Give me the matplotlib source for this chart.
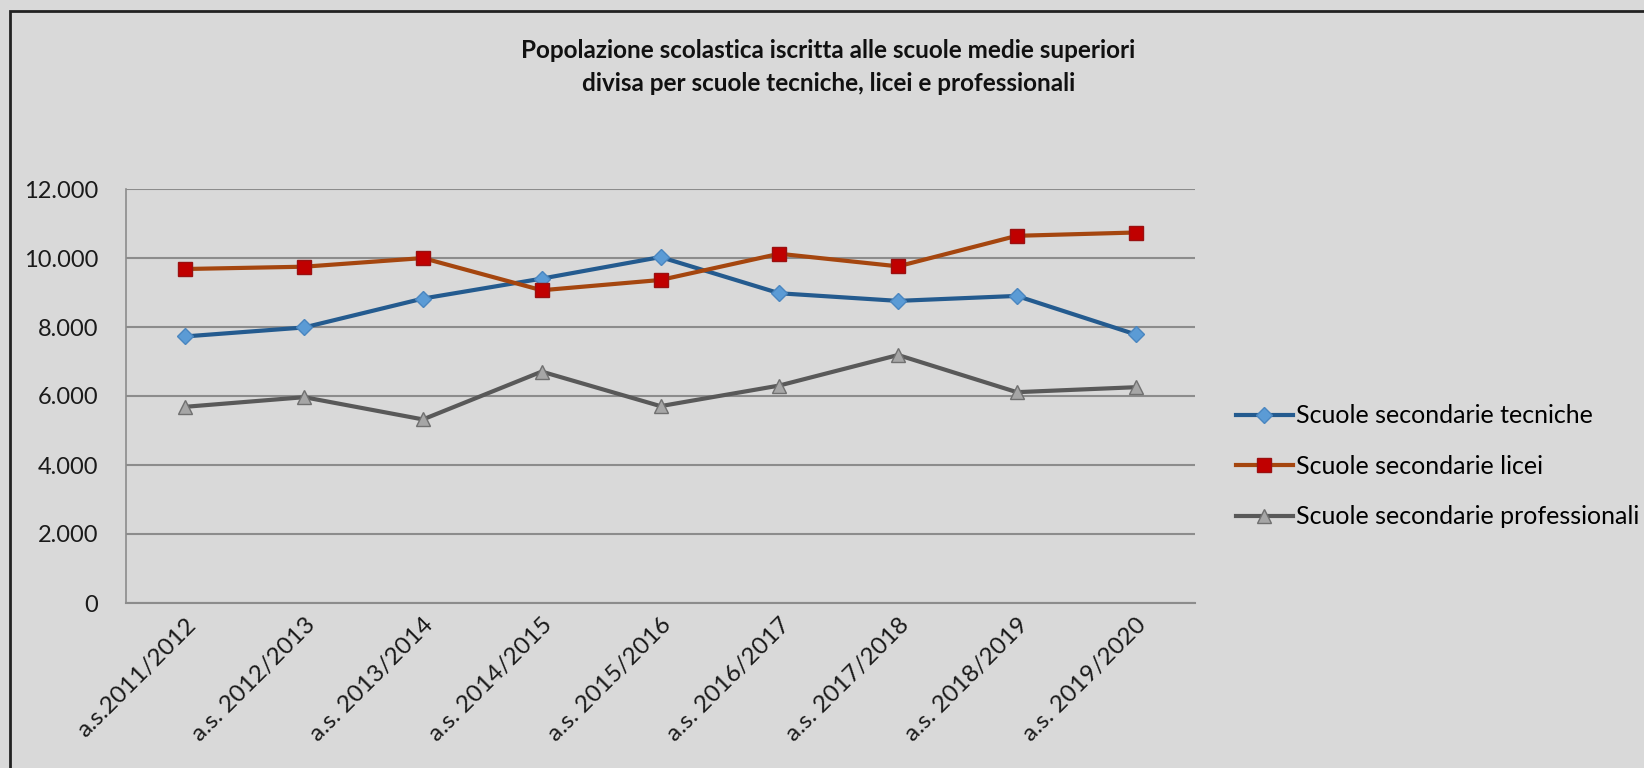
import matplotlib
matplotlib.use("Agg")
import matplotlib.pyplot as plt
from matplotlib.patches import Rectangle
from matplotlib.ticker import FuncFormatter

categories = ["a.s.2011/2012", "a.s. 2012/2013", "a.s. 2013/2014", "a.s. 2014/2015",
              "a.s. 2015/2016", "a.s. 2016/2017", "a.s. 2017/2018", "a.s. 2018/2019",
              "a.s. 2019/2020"]
tecniche = [7727, 7987, 8824, 9402, 10027, 8978, 8757, 8901, 7785]
licei = [9681, 9748, 9998, 9065, 9363, 10123, 9758, 10643, 10739]
professionali = [5687, 5966, 5321, 6707, 5706, 6303, 7188, 6111, 6255]
series_names = ["Scuole secondarie tecniche", "Scuole secondarie licei",
                "Scuole secondarie professionali"]
title = ("Popolazione scolastica iscritta alle scuole medie superiori\n"
         "divisa per scuole tecniche, licei e professionali")

plt.rcParams['font.family'] = ['Lato', 'DejaVu Sans']
BG = "#D9D9D9"
fig = plt.figure(figsize=(16.44, 7.68), dpi=100, facecolor=BG)
ax = fig.add_axes([126/1644, 1-603/768, (1195-126)/1644, (603-189)/768])
ax.set_facecolor(BG)

x = list(range(len(categories)))
ax.plot(x, tecniche, color="#245B8F", lw=3, marker="D", ms=8,
        markerfacecolor="#5B9BD5", markeredgecolor="#4A86C0", mew=1,
        label=series_names[0], zorder=3)
ax.plot(x, licei, color="#A5460F", lw=3, marker="s", ms=10,
        markerfacecolor="#C00000", markeredgecolor="#9A1010", mew=1,
        label=series_names[1], zorder=3)
ax.plot(x, professionali, color="#595959", lw=3, marker="^", ms=10,
        markerfacecolor="#A6A6A6", markeredgecolor="#707070", mew=1,
        label=series_names[2], zorder=3)

ax.set_xlim(-0.5, len(categories) - 0.5)
ax.set_ylim(0, 12000)
ax.set_yticks(range(0, 12001, 2000))
ax.yaxis.set_major_formatter(FuncFormatter(lambda v, p: f"{int(v):,}".replace(",", ".")))
ax.grid(axis="y", color="#8C8C8C", lw=1.5)
ax.set_axisbelow(True)
for s in ["top", "right"]:
    ax.spines[s].set_visible(False)
ax.spines["left"].set_color("#8C8C8C")
ax.spines["bottom"].set_color("#8C8C8C")
ax.spines["left"].set_linewidth(1.2)
ax.spines["bottom"].set_linewidth(1.5)
ax.tick_params(axis="both", length=0, labelsize=17, colors="#1a1a1a", pad=8)
ax.tick_params(axis="y", pad=20)
ax.set_xticks(x)
ax.set_xticklabels(categories, rotation=45, ha="right", rotation_mode="anchor", fontsize=17.5)

fig.text(0.504, 0.913, title, ha="center", va="center", fontsize=17.5,
         fontweight="bold", linespacing=1.5, color="#111111")

ax.legend(loc="center left", bbox_to_anchor=(1.017, 0.33), frameon=False,
          fontsize=18, labelspacing=1.1, handlelength=2.3, handletextpad=0.1)

fig.patches.append(Rectangle((10/1644, -0.1), 1.2, 1.1 - 11/768, transform=fig.transFigure,
                             fill=False, edgecolor="#222222", lw=2))
fig.savefig("out.png", dpi=100, facecolor=BG)
